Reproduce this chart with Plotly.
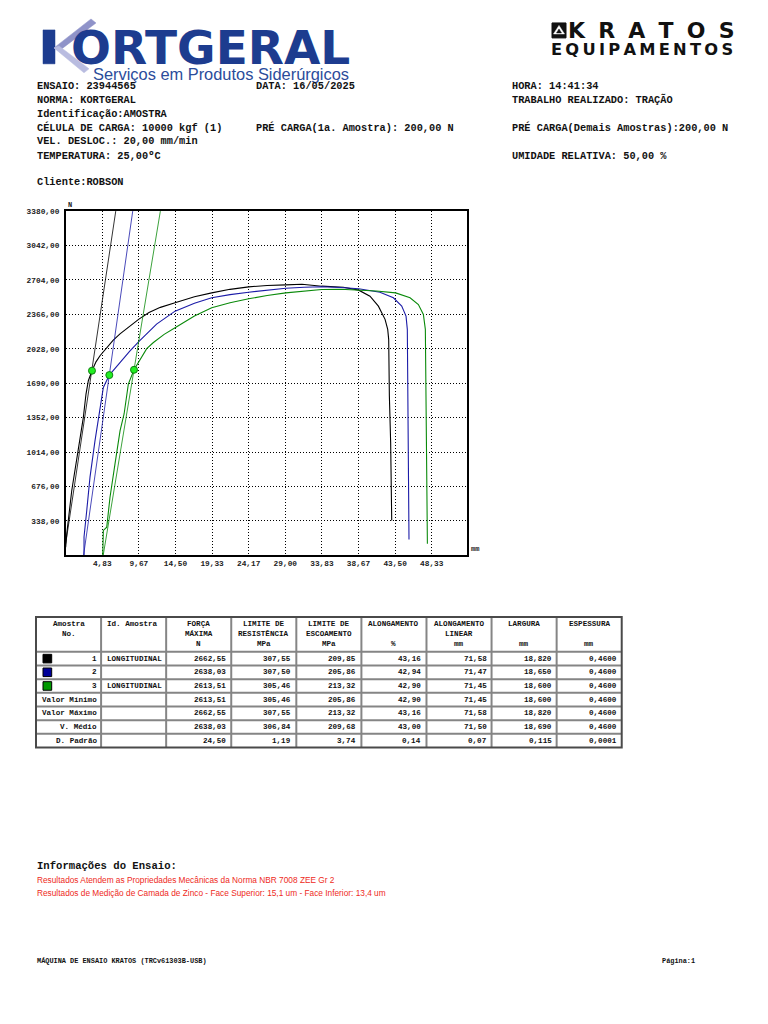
import plotly.graph_objects as go

# page is rendered with the browser's default 8px body margin, so the figure is
# a bit smaller than the window and page coordinates are shifted by (OX, OY)
PAGE_W, PAGE_H = 768, 1024
OX, OY = 8, 9
W, H = PAGE_W - 16, PAGE_H - 16
MONO = "Liberation Mono"
SANS = "Liberation Sans"

# ---- curves: elongation (mm) vs force (N) ----
CP1_X = [0.0, 0.14, 0.80, 1.67, 2.33, 2.68, 2.99, 3.47, 4.0, 4.53, 5.41, 6.25, 7.17, 8.4,
         9.67, 11.0, 12.5, 14.44, 17.0, 19.28, 21.7, 24.16, 26.6, 29.05, 31.2, 33.80,
         36.66, 38.69, 40.18, 41.29, 42.17, 42.52, 42.65, 42.74, 42.91, 43.05]
CP1_F = [80, 213, 637, 1029, 1355, 1584, 1715, 1813, 1900, 1960, 2040, 2110, 2175, 2250,
         2320, 2385, 2435, 2480, 2540, 2577, 2612, 2636, 2650, 2656, 2662, 2643,
         2633, 2604, 2545, 2447, 2317, 2219, 2121, 1566, 1109, 343]

CP2_X = [2.42, 2.42, 2.78, 3.21, 3.87, 4.44, 4.97, 5.76, 6.95, 8.49, 9.68, 12.0, 14.44,
         17.0, 19.28, 21.7, 24.16, 26.6, 29.05, 31.5, 33.80, 36.3, 38.69, 41.50, 43.27,
         44.37, 44.94, 45.11, 45.16, 45.20, 45.33]
CP2_F = [0, 180, 441, 768, 1127, 1421, 1649, 1770, 1878, 2008, 2100, 2270, 2398,
         2475, 2529, 2560, 2584, 2606, 2623, 2632, 2638, 2630, 2617, 2584, 2529,
         2447, 2349, 2219, 1892, 1109, 157]

CP3_X = [4.89, 4.97, 5.42, 5.85, 6.51, 7.18, 7.71, 8.27, 9.02, 10.70, 11.58, 13.0, 14.44,
         17.0, 19.28, 21.7, 24.16, 26.6, 29.05, 31.5, 33.80, 36.3, 38.69, 41.0, 43.57,
         45.47, 46.57, 47.23, 47.49, 47.58, 47.67, 47.76]
CP3_F = [0, 245, 277, 571, 898, 1225, 1388, 1682, 1822, 2030, 2090, 2170, 2235,
         2350, 2431, 2480, 2519, 2552, 2577, 2596, 2610, 2613, 2606, 2596, 2577,
         2529, 2463, 2365, 2219, 1697, 783, 114]

# elastic (modulus) lines
MOD_X = [[0.0, 6.61], [2.36, 8.85], [4.95, 12.50]]
MOD_F = [[115, 3380], [0, 3380], [0, 3380]]

# yield points (green dots)
YIELD_X = [3.47, 5.76, 9.02]
YIELD_F = [1813, 1770, 1822]

CP_COLORS = ["#000000", "#1c1ca8", "#0a8a0a"]
SQUARE_COLORS = ["#000000", "#000099", "#009900"]

X_TICKS = [4.833, 9.667, 14.50, 19.333, 24.167, 29.00, 33.833, 38.667, 43.50, 48.333]
X_TICK_TEXT = ["4,83", "9,67", "14,50", "19,33", "24,17", "29,00", "33,83", "38,67", "43,50", "48,33"]
Y_TICKS = [338, 676, 1014, 1352, 1690, 2028, 2366, 2704, 3042, 3380]
Y_TICK_TEXT = ["338,00", "676,00", "1014,00", "1352,00", "1690,00", "2028,00",
               "2366,00", "2704,00", "3042,00", "3380,00"]

# ---- header info ----
HEADER_LINES = [
    (84, ["ENSAIO: 23944565", "DATA: 16/05/2025", "HORA: 14:41:34"]),
    (98, ["NORMA: KORTGERAL", "", "TRABALHO REALIZADO: TRAÇÃO"]),
    (112, ["Identificação:AMOSTRA", "", ""]),
    (126, ["CÉLULA DE CARGA: 10000 kgf (1)", "PRÉ CARGA(1a. Amostra): 200,00 N",
           "PRÉ CARGA(Demais Amostras):200,00 N"]),
    (139, ["VEL. DESLOC.: 20,00 mm/min", "", ""]),
    (154, ["TEMPERATURA: 25,00ºC", "", "UMIDADE RELATIVA: 50,00 %"]),
    (181, ["Cliente:ROBSON", "", ""]),
]
HEADER_COL_X = [37, 256, 512]

# ---- results table ----
TABLE_HEADERS = [
    ["Amostra", "No.", ""],
    ["Id. Amostra", "", ""],
    ["FORÇA", "MÁXIMA", "N"],
    ["LIMITE DE", "RESISTÊNCIA", "MPa"],
    ["LIMITE DE", "ESCOAMENTO", "MPa"],
    ["ALONGAMENTO", "", "%"],
    ["ALONGAMENTO", "LINEAR", "mm"],
    ["LARGURA", "", "mm"],
    ["ESPESSURA", "", "mm"],
]
ROW_LABELS = ["1", "2", "3", "Valor Mínimo", "Valor Máximo", "V. Médio", "D. Padrão"]
ID_AMOSTRA = ["LONGITUDINAL", "", "LONGITUDINAL", "", "", "", ""]
FORCA_MAX = ["2662,55", "2638,03", "2613,51", "2613,51", "2662,55", "2638,03", "24,50"]
LIM_RESIST = ["307,55", "307,50", "305,46", "305,46", "307,55", "306,84", "1,19"]
LIM_ESCOA = ["209,85", "205,86", "213,32", "205,86", "213,32", "209,68", "3,74"]
ALONG = ["43,16", "42,94", "42,90", "42,90", "43,16", "43,00", "0,14"]
ALONG_LIN = ["71,58", "71,47", "71,45", "71,45", "71,58", "71,50", "0,07"]
LARGURA = ["18,820", "18,650", "18,600", "18,600", "18,820", "18,690", "0,115"]
ESPESSURA = ["0,4600", "0,4600", "0,4600", "0,4600", "0,4600", "0,4600", "0,0001"]

INFO_TITLE = "Informações do Ensaio:"
INFO_LINES = [
    "Resultados Atendem as Propriedades Mecânicas da Norma NBR 7008 ZEE Gr 2",
    "Resultados de Medição de Camada de Zinco - Face Superior: 15,1 um - Face Inferior: 13,4 um",
]
FOOTER_LEFT = "MÁQUINA DE ENSAIO KRATOS (TRCv61303B-USB)"
FOOTER_RIGHT = "Página:1"


def px(x):
    return (x - OX) / W


def py(y):
    return 1 - (y - OY) / H


def txt(x, y, s, size=10.3, xa="left", color="#111111", family=MONO, bold=True, ya="middle"):
    return dict(x=px(x), y=py(y), xref="paper", yref="paper", text=s, showarrow=False,
                xanchor=xa, yanchor=ya, borderpad=0, borderwidth=0,
                font=dict(family=family, size=size, color=color,
                          weight="bold" if bold else "normal"))


def rect(x0, y0, x1, y1, fill=None, line="#000000", lw=1):
    return dict(type="rect", xref="paper", yref="paper",
                x0=px(x0), x1=px(x1), y0=py(y1), y1=py(y0),
                fillcolor=fill if fill else "rgba(0,0,0,0)",
                line=dict(color=line, width=lw), layer="above")


def seg(x0, y0, x1, y1, color="#808080", lw=1.5):
    return dict(type="line", xref="paper", yref="paper",
                x0=px(x0), x1=px(x1), y0=py(y0), y1=py(y1),
                line=dict(color=color, width=lw), layer="above")


def path(pts, fill, line_color=None):
    d = "M " + " L ".join(f"{px(a):.5f},{py(b):.5f}" for a, b in pts) + " Z"
    return dict(type="path", xref="paper", yref="paper", path=d, fillcolor=fill,
                line=dict(color=line_color or fill, width=0.5), layer="above")


fig = go.Figure()

for xs, fs, color in zip([CP1_X, CP2_X, CP3_X], [CP1_F, CP2_F, CP3_F], CP_COLORS):
    fig.add_trace(go.Scatter(x=xs, y=fs, mode="lines",
                             line=dict(color=color, width=1.1), hoverinfo="skip"))
for xs, fs, color in zip(MOD_X, MOD_F, CP_COLORS):
    fig.add_trace(go.Scatter(x=xs, y=fs, mode="lines",
                             line=dict(color=color, width=0.8), hoverinfo="skip"))
fig.add_trace(go.Scatter(x=YIELD_X, y=YIELD_F, mode="markers",
                         marker=dict(color="#22ee22", size=7,
                                     line=dict(color="#108010", width=1)),
                         hoverinfo="skip", cliponaxis=False))

axis_font = dict(family=MONO, size=7.8, color="#222222", weight="bold")
fig.update_xaxes(domain=[px(65.7), px(467.3)], range=[0, 53.03],
                 tickmode="array", tickvals=X_TICKS, ticktext=X_TICK_TEXT,
                 tickfont=axis_font, ticks="", showgrid=True, gridcolor="#000000",
                 gridwidth=1, griddash="1px,2px", zeroline=False,
                 showline=True, linecolor="#000000", linewidth=1.5, mirror=True)
fig.update_yaxes(domain=[py(555), py(209.7)], range=[0, 3380],
                 tickmode="array", tickvals=Y_TICKS, ticktext=Y_TICK_TEXT,
                 tickfont=axis_font, ticks="", ticklabelstandoff=3, showgrid=True,
                 gridcolor="#000000", gridwidth=1, griddash="1px,2px", zeroline=False,
                 showline=True, linecolor="#000000", linewidth=1.5, mirror=True)

ann = []
shapes = []

# logos
NAVY = "#1d3c8f"
shapes.append(rect(43, 28, 55, 62, fill=NAVY, line=NAVY, lw=0.5))
shapes.append(path([(91, 17), (96, 21), (59, 49), (54, 46)], "#8f93c9"))
shapes.append(path([(54, 46), (59, 44), (89, 67), (84, 71)], "#b9bce0"))
ann.append(txt(71, 45.5, "ORTGERAL", size=47, family="DejaVu Sans", color=NAVY))
ann.append(txt(93, 72, "Serviços em Produtos Siderúrgicos", size=16.4, family=SANS,
               color="#2b4c9b", bold=False))

shapes.append(rect(552, 21, 566, 36, fill="#111111", line="#111111"))
shapes.append(path([(559, 23.5), (564.5, 32), (553.5, 32)], "#ffffff"))
shapes.append(path([(559, 27), (561.5, 31), (556.5, 31)], "#111111"))
ann.append(txt(568, 28.5, "K\u2002\u200aR\u2002\u200aA\u2002\u200aT\u2002\u200aO\u2002\u200aS",
               size=22, family="DejaVu Sans", color="#111111"))
ann.append(txt(551, 47.5, "\u2009".join("EQUIPAMENTOS"), size=16.3, family="DejaVu Sans",
               color="#111111"))

# header info
for y, cols in HEADER_LINES:
    for x, s in zip(HEADER_COL_X, cols):
        if s:
            ann.append(txt(x, y, s, size=10.3))

# axis captions
ann.append(txt(68, 204, "N", size=7, color="#222222"))
ann.append(txt(471, 549, "mm", size=7, color="#222222"))

# results table
COL_X = [36 + 65.08 * i for i in range(10)]
ROW_Y = [616.7, 651.7] + [651.7 + 13.71 * k for k in range(1, 8)]
for x in COL_X[1:-1]:
    shapes.append(seg(x, ROW_Y[0], x, ROW_Y[-1], color="#858585", lw=2))
for y in ROW_Y[1:-1]:
    shapes.append(seg(COL_X[0], y, COL_X[-1], y, color="#858585", lw=2))
shapes.append(rect(COL_X[0], ROW_Y[0], COL_X[-1], ROW_Y[-1], line="#4a4a4a", lw=2))

TFONT = 7.6
for c, lines in enumerate(TABLE_HEADERS):
    for k, s in enumerate(lines):
        if not s:
            continue
        if c == 1:
            ann.append(txt(COL_X[c] + 5.5, 624 + 10 * k, s, size=TFONT))
        else:
            ann.append(txt((COL_X[c] + COL_X[c + 1]) / 2, 624 + 10 * k, s,
                           size=TFONT, xa="center"))

value_cols = [FORCA_MAX, LIM_RESIST, LIM_ESCOA, ALONG, ALONG_LIN, LARGURA, ESPESSURA]
for r in range(len(ROW_LABELS)):
    yc = (ROW_Y[r + 1] + ROW_Y[r + 2]) / 2
    ann.append(txt(COL_X[1] - 4.5, yc, ROW_LABELS[r], size=TFONT, xa="right"))
    if r < 3:
        shapes.append(rect(43, yc - 4.3, 51.7, yc + 4.3, fill=SQUARE_COLORS[r],
                           line="#000000", lw=1))
    if ID_AMOSTRA[r]:
        ann.append(txt(COL_X[1] + 5.5, yc, ID_AMOSTRA[r], size=TFONT))
    for c, col in enumerate(value_cols):
        ann.append(txt(COL_X[c + 3] - 5, yc, col[r], size=TFONT, xa="right"))

# test notes and footer
ann.append(txt(37, 867, INFO_TITLE, size=10.6, color="#111111"))
for k, s in enumerate(INFO_LINES):
    ann.append(txt(37, 881 + 12.6 * k, s, size=8.3, family=SANS, color="#ee2a22", bold=False))
ann.append(txt(37, 962, FOOTER_LEFT, size=6.9))
ann.append(txt(695, 962, FOOTER_RIGHT, size=6.9, xa="right"))

fig.update_layout(
    width=W, height=H, autosize=False,
    margin=dict(l=0, r=0, t=0, b=0),
    paper_bgcolor="#ffffff", plot_bgcolor="#ffffff",
    showlegend=False, hovermode=False,
    annotations=ann, shapes=shapes,
)

fig.write_html("out.html")
